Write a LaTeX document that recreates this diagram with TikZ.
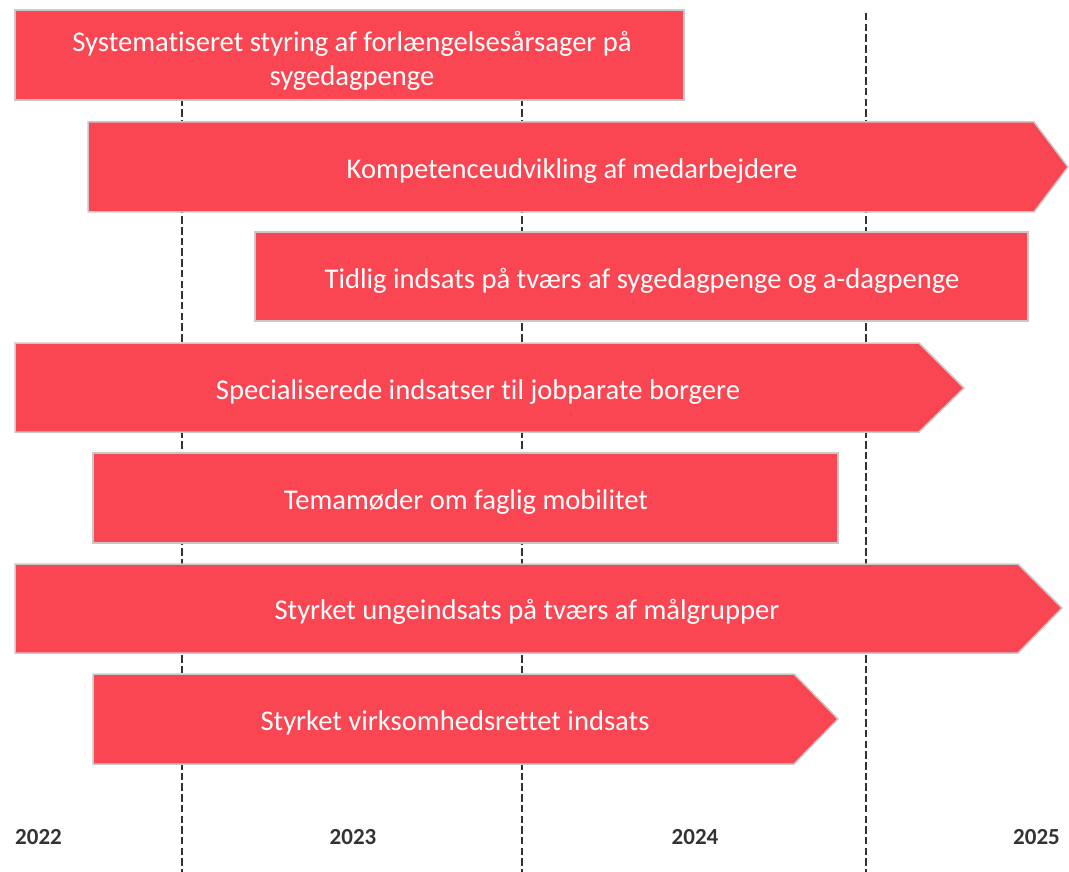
\documentclass[tikz,border=0pt]{standalone}
\usepackage{fontspec}
\setmainfont[Ligatures=NoCommon]{Carlito}
\definecolor{barred}{RGB}{249,70,82}
\definecolor{barline}{RGB}{200,200,200}
\definecolor{gridgray}{RGB}{51,51,51}
\begin{document}
\begin{tikzpicture}[x=1pt,y=-1pt,
  bar/.style={fill=barred,draw=barline,line width=1.5pt},
  bartext/.style={text=white,font=\fontsize{28.6}{34}\selectfont,align=center,inner sep=0pt},
  yeartext/.style={text=gridgray,font=\fontsize{23}{28}\selectfont\bfseries,inner sep=0pt},
  gridline/.style={draw=gridgray,line width=2pt,dash pattern=on 7.5pt off 3.2pt}]
\useasboundingbox (0,0) rectangle (1069,872);
% grid lines
\coordinate (g1t) at (182,13); \coordinate (g1b) at (182,872);
\coordinate (g2t) at (522,13); \coordinate (g2b) at (522,872);
\coordinate (g3t) at (866,13); \coordinate (g3b) at (866,872);
\draw[gridline] (g1t) -- (g1b);
\draw[gridline] (g2t) -- (g2b);
\draw[gridline] (g3t) -- (g3b);
% bars
\draw[bar] (15,10) rectangle (684,100);
\node[bartext] (b1) at (352,61) {Systematiseret styring af forlængelsesårsager på\\sygedagpenge};
\draw[bar] (88,122) -- (1034,122) -- (1068,167) -- (1034,212) -- (88,212) -- cycle;
\node[bartext] (b2) at (572,171) {Kompetenceudvikling af medarbejdere};
\draw[bar] (255,232) rectangle (1028,321);
\node[bartext] (b3) at (642,281) {Tidlig indsats på tværs af sygedagpenge og a-dagpenge};
\draw[bar] (15,343) -- (919,343) -- (964,388) -- (919,432) -- (15,432) -- cycle;
\node[bartext] (b4) at (478,392) {Specialiserede indsatser til jobparate borgere};
\draw[bar] (93,453) rectangle (838,543);
\node[bartext] (b5) at (466,502) {Temamøder om faglig mobilitet};
\draw[bar] (15,564) -- (1018,564) -- (1062,608) -- (1018,653) -- (15,653) -- cycle;
\node[bartext] (b6) at (527,612) {Styrket ungeindsats på tværs af målgrupper};
\draw[bar] (93,674) -- (794,674) -- (838,719) -- (794,764) -- (93,764) -- cycle;
\node[bartext] (b7) at (455,723) {Styrket virksomhedsrettet indsats};
% years
\node[yeartext,anchor=west] (y22) at (15,837) {2022};
\node[yeartext] (y23) at (353,837) {2023};
\node[yeartext] (y24) at (695,837) {2024};
\node[yeartext,anchor=east] (y25) at (1060,837) {2025};
\end{tikzpicture}
\end{document}
